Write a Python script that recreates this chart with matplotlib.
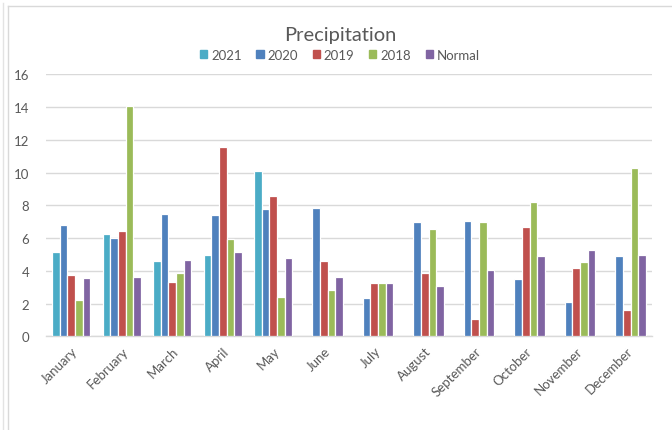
import matplotlib
matplotlib.use("Agg")
import matplotlib.pyplot as plt
import numpy as np
from matplotlib.lines import Line2D

plt.rcParams['font.family'] = ['Lato', 'DejaVu Sans']

months = ["January", "February", "March", "April", "May", "June", "July",
          "August", "September", "October", "November", "December"]
series_names = ["2021", "2020", "2019", "2018", "Normal"]
colors = ["#4BACC6", "#4F81BD", "#C0504D", "#9BBB59", "#8064A2"]

p2021 = [5.13, 6.25, 4.6, 4.95, 10.08, np.nan, np.nan, np.nan, np.nan, np.nan, np.nan, np.nan]
p2020 = [6.82, 6.0, 7.45, 7.4, 7.78, 7.82, 2.34, 6.98, 7.06, 3.48, 2.08, 4.89]
p2019 = [3.73, 6.45, 3.3, 11.55, 8.57, 4.58, 3.28, 3.85, 1.08, 6.66, 4.17, 1.61]
p2018 = [2.2, 14.05, 3.85, 5.95, 2.42, 2.83, 3.26, 6.58, 6.98, 8.18, 4.56, 10.3]
normal = [3.55, 3.65, 4.65, 5.15, 4.78, 3.62, 3.24, 3.07, 4.07, 4.89, 5.25, 4.95]

series = [p2021, p2020, p2019, p2018, normal]

fig = plt.figure(figsize=(6.72, 4.31), dpi=100)

# chart frame lines
fig.add_artist(Line2D([8/672, 1.0], [1 - 7/431, 1 - 7/431], color="#D9D9D9", lw=1.0))
fig.add_artist(Line2D([8/672, 8/672], [0, 1 - 7/431], color="#D9D9D9", lw=1.0))
fig.add_artist(Line2D([2.5/672, 2.5/672], [0, 1 - 4/431], color="#E3E3E3", lw=1.0))

ax = fig.add_axes([46/672, 1 - 337.3/431, (652 - 46)/672, (337.3 - 75.3)/431])

x = np.arange(len(months))
pitch = 0.152
for i, (name, vals, c) in enumerate(zip(series_names, series, colors)):
    offs = (i - 2) * pitch
    ax.bar(x + offs, vals, width=pitch, color=c, edgecolor="white",
           linewidth=0.9, label=name, zorder=3)

ax.set_xlim(-0.5, 11.5)
ax.set_ylim(0, 16)
ax.set_yticks(np.arange(0, 17, 2))
ax.yaxis.grid(True, color="#D9D9D9", linewidth=1.0, zorder=0)
ax.set_axisbelow(True)
for s in ["top", "right", "left"]:
    ax.spines[s].set_visible(False)
ax.spines["bottom"].set_color("#D9D9D9")
ax.spines["bottom"].set_linewidth(1.0)
ax.tick_params(axis="both", length=0, colors="#595959", labelsize=9.5)
ax.tick_params(axis="y", pad=12)
ax.set_xticks(x)
ax.set_xticklabels(months, rotation=45, ha="right", rotation_mode="anchor")
ax.tick_params(axis="x", pad=6)

fig.text(340/672, 1 - 35/431, "Precipitation", ha="center", va="center",
         fontsize=14.5, color="#595959")

handles = [plt.Rectangle((0, 0), 1, 1, color=c) for c in colors]
fig.legend(handles, series_names, loc="center", bbox_to_anchor=(340/672, 1 - 56/431),
           ncol=5, frameon=False, fontsize=9.5, labelcolor="#595959",
           handlelength=0.55, handleheight=0.55, handletextpad=0.3, columnspacing=1.1)

fig.savefig("out.png", dpi=100, facecolor="white")
